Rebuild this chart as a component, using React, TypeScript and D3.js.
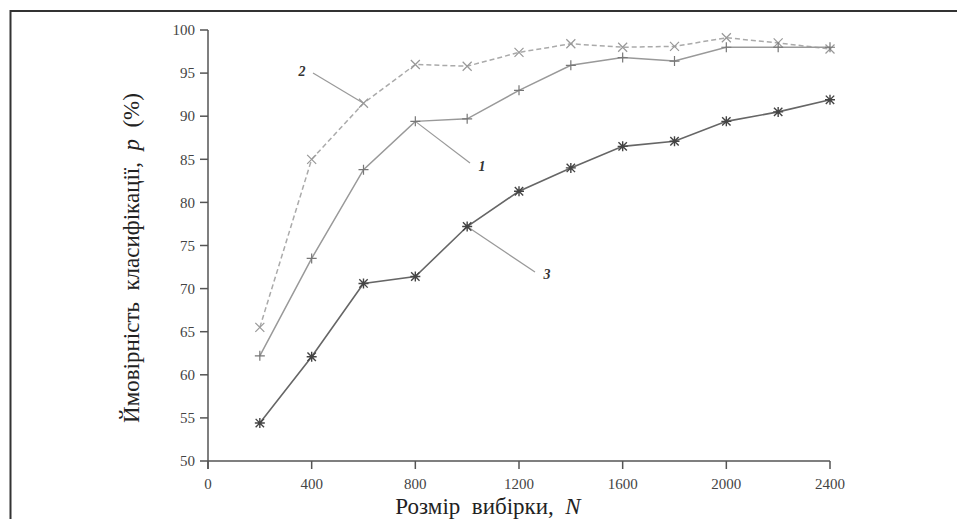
import React from 'react';
import * as d3 from 'd3';

const sizes = [200, 400, 600, 800, 1000, 1200, 1400, 1600, 1800, 2000, 2200, 2400];
const series1 = [62.2, 73.5, 83.8, 89.4, 89.7, 93.0, 95.9, 96.8, 96.4, 98.0, 98.0, 98.0];
const series2 = [65.5, 85.0, 91.5, 96.0, 95.8, 97.4, 98.4, 98.0, 98.1, 99.1, 98.5, 97.8];
const series3 = [54.4, 62.1, 70.6, 71.4, 77.2, 81.3, 84.0, 86.5, 87.1, 89.4, 90.5, 91.9];
const xTicks = [0, 400, 800, 1200, 1600, 2000, 2400];
const yTicks = [50, 55, 60, 65, 70, 75, 80, 85, 90, 95, 100];

const W = 957;
const H = 519;
const serif = '"Liberation Serif", "DejaVu Serif", serif';

export default function App() {
  const x = d3.scaleLinear().domain([0, 2400]).range([208, 830]);
  const y = d3.scaleLinear().domain([50, 100]).range([461, 30]);

  const line = d3
    .line<number>()
    .x((_, i) => x(sizes[i]))
    .y((d) => y(d));

  const plus = (cx: number, cy: number, r: number) =>
    `M${cx - r},${cy}H${cx + r}M${cx},${cy - r}V${cy + r}`;
  const cross = (cx: number, cy: number, r: number) =>
    `M${cx - r},${cy - r}L${cx + r},${cy + r}M${cx - r},${cy + r}L${cx + r},${cy - r}`;

  // callout: from label to a point on the series
  const callouts = [
    { label: '2', lx: 302, ly: 76, x0: 313, y0: 73, xi: 2, vals: series2 },
    { label: '1', lx: 482, ly: 171, x0: 470, y0: 163, xi: 3, vals: series1 },
    { label: '3', lx: 547, ly: 279, x0: 535, y0: 272, xi: 4, vals: series3 },
  ];

  return (
    <svg
      width={W}
      height={H}
      style={{ position: 'absolute', left: 0, top: 0, background: '#fff' }}
    >
      {/* frame */}
      <rect x={10.5} y={11} width={W} height={H} fill="none" stroke="#333" strokeWidth={2} />

      {/* axes */}
      <g stroke="#555" strokeWidth={1.5} fill="none">
        <line x1={x(0)} y1={y(100)} x2={x(0)} y2={y(50) + 8} />
        <line x1={x(0)} y1={y(50)} x2={x(2400)} y2={y(50)} />
        {yTicks.map((t) => (
          <line key={'yt' + t} x1={x(0) - 8} x2={x(0)} y1={y(t)} y2={y(t)} />
        ))}
        {xTicks.map((t) => (
          <line key={'xt' + t} x1={x(t)} x2={x(t)} y1={y(50)} y2={y(50) + 8} />
        ))}
      </g>
      <g fontFamily={serif} fontSize={15} fill="#444">
        {yTicks.map((t) => (
          <text key={'yl' + t} x={x(0) - 13} y={y(t)} dy="0.35em" textAnchor="end">
            {t}
          </text>
        ))}
        {xTicks.map((t) => (
          <text key={'xl' + t} x={x(t)} y={y(50) + 28} textAnchor="middle">
            {t}
          </text>
        ))}
      </g>

      {/* axis titles */}
      <text x={488} y={514} textAnchor="middle" fontFamily={serif} fontSize={23} fill="#222">
        {'Розмір\u00a0\u00a0вибірки,\u00a0\u00a0'}
        <tspan fontStyle="italic">N</tspan>
      </text>
      <text
        transform={`translate(139,258) rotate(-90)`}
        textAnchor="middle"
        fontFamily={serif}
        fontSize={23}
        fill="#222"
      >
        {'Ймовірність\u00a0\u00a0класифікації,\u00a0\u00a0'}
        <tspan fontStyle="italic">p</tspan>
        {'\u00a0\u00a0(%)'}
      </text>

      {/* callouts */}
      {callouts.map((c) => (
        <g key={'c' + c.label}>
          <line
            x1={c.x0}
            y1={c.y0}
            x2={x(sizes[c.xi])}
            y2={y(c.vals[c.xi])}
            stroke="#999"
            strokeWidth={1.2}
          />
          <text
            x={c.lx}
            y={c.ly}
            textAnchor="middle"
            fontFamily={serif}
            fontStyle="italic"
            fontWeight="bold"
            fontSize={14}
            fill="#333"
          >
            {c.label}
          </text>
        </g>
      ))}

      {/* series 2 - dashed, x markers */}
      <path d={line(series2) || ''} fill="none" stroke="#aaa" strokeWidth={1.5} strokeDasharray="5,3" />
      {series2.map((v, i) => (
        <path key={'m2' + i} d={cross(x(sizes[i]), y(v), 4.5)} stroke="#999" strokeWidth={1.2} fill="none" />
      ))}

      {/* series 1 - solid, + markers */}
      <path d={line(series1) || ''} fill="none" stroke="#999" strokeWidth={1.5} />
      {series1.map((v, i) => (
        <path key={'m1' + i} d={plus(x(sizes[i]), y(v), 5)} stroke="#777" strokeWidth={1.2} fill="none" />
      ))}

      {/* series 3 - solid, asterisk markers */}
      <path d={line(series3) || ''} fill="none" stroke="#666" strokeWidth={1.6} />
      {series3.map((v, i) => (
        <path
          key={'m3' + i}
          d={plus(x(sizes[i]), y(v), 5) + cross(x(sizes[i]), y(v), 4.2)}
          stroke="#444"
          strokeWidth={1.4}
          fill="none"
        />
      ))}
    </svg>
  );
}
